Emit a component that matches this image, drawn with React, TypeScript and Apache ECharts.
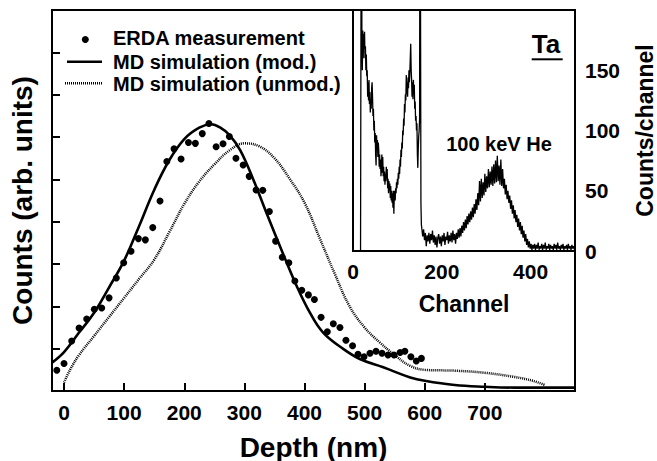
import React, { useEffect, useRef } from 'react';
import * as echarts from 'echarts';

// ---- Main plot data (depth in nm, counts in arb. units) ----
const depthTicks = [0, 100, 200, 300, 400, 500, 600, 700];

const erdaDepth = [-12, 0, 12.8, 25, 37.7, 50.4, 62.7, 74.9, 87, 99.3, 111.5, 123.7, 135.3, 147.6, 159.7, 171, 183, 194.7, 207, 218.5, 230, 241, 253, 264.5, 275, 286, 298, 308, 319.5, 330.6, 341.6, 352, 363, 374, 384, 395.5, 406.5, 416.5, 427.6, 438, 448, 459, 469, 480, 489, 499, 509, 519, 529, 539, 549, 559, 567, 577, 586, 594.5];
const erdaCounts = [0.49, 0.65, 1.18, 1.49, 1.70, 1.93, 1.96, 2.20, 2.67, 3.03, 3.30, 3.60, 3.57, 3.86, 4.49, 5.42, 5.72, 5.48, 5.87, 5.85, 6.08, 6.32, 5.77, 5.84, 6.01, 5.50, 5.34, 5.07, 4.75, 4.74, 4.24, 3.54, 3.16, 3.03, 2.60, 2.38, 2.27, 2.16, 1.74, 1.40, 1.59, 1.50, 1.20, 1.07, 0.87, 0.81, 0.89, 0.94, 0.89, 0.85, 0.85, 0.91, 0.94, 0.81, 0.71, 0.77];

const modDepth = [-20, 0, 25, 50, 75, 100, 125, 150, 175, 200, 225, 245, 260, 275, 293, 315, 337, 365, 387, 409, 431, 465, 493, 531, 576, 600, 650, 700, 750, 850];
const modCounts = [0.67, 0.92, 1.38, 1.85, 2.45, 3.08, 3.9, 4.75, 5.45, 5.95, 6.22, 6.3, 6.22, 6.05, 5.69, 4.99, 4.2, 3.22, 2.48, 1.85, 1.38, 0.99, 0.75, 0.56, 0.32, 0.24, 0.14, 0.1, 0.08, 0.08];

const unmodDepth = [0, 10, 25, 50, 75, 100, 125, 150, 175, 200, 225, 250, 275, 300, 325, 350, 375, 400, 425, 450, 475, 500, 525, 550, 575, 600, 650, 700, 750, 780, 800];
const unmodCounts = [0.2, 0.5, 0.85, 1.3, 1.75, 2.2, 2.65, 3.1, 3.75, 4.42, 4.95, 5.35, 5.68, 5.85, 5.78, 5.5, 5.02, 4.45, 3.62, 2.78, 2.0, 1.5, 1.15, 0.85, 0.6, 0.5, 0.48, 0.43, 0.33, 0.24, 0.14];

// ---- Inset spectrum (channel vs counts/channel) ----
const channelTicks = [0, 200, 400];
const specChannel = [17, 19,
  20, 21, 22, 23, 24, 25, 26, 27, 28, 29, 30, 31, 32, 33, 34, 35, 36, 37, 38, 39, 40, 41, 42, 43, 44, 45, 46, 47, 48, 49,
  50, 51, 52, 53, 54, 55, 56, 57, 58, 59, 60, 61, 62, 63, 64, 65, 66, 67, 68, 69, 70, 71, 72, 73, 74, 75, 76, 77, 78, 79,
  80, 81, 82, 83, 84, 85, 86, 87, 88, 89, 90, 91, 92, 93, 94, 95, 96, 97, 98, 99, 100, 101, 102, 103, 104, 105, 106, 107, 108, 109,
  110, 111, 112, 113, 114, 115, 116, 117, 118, 119, 120, 121, 122, 123, 124, 125, 126, 127, 128, 129, 130, 131, 132, 133, 134, 135, 136, 137, 138, 139,
  140, 141, 142, 143, 144, 145, 146, 147, 148, 149, 150, 151, 153, 154,
  155, 157, 159, 161, 163, 165, 167, 169, 171, 173, 175, 177, 179, 181, 183, 185, 187, 189, 191, 193, 195, 197, 199,
  201, 203, 205, 207, 209, 211, 213, 215, 217, 219, 221, 223, 225, 227, 229, 231, 233, 235, 237, 239, 241, 243, 245, 247, 249,
  251, 253, 255, 257, 259, 261, 263, 265, 267, 269, 271, 273, 275, 277, 279, 281, 283, 285, 287, 289, 291, 293, 295, 297, 299,
  301, 303, 305, 307, 309, 311, 313, 315, 317, 319, 321, 323, 325, 327, 329, 331, 333, 335, 337, 339, 341, 343, 345, 347, 349,
  351, 353, 355, 357, 359, 361, 363, 365, 367, 369, 371, 373, 375, 377, 379, 381, 383, 385, 387, 389, 391, 393, 395, 397, 399,
  401, 403, 405, 407, 409, 411, 413, 415, 417, 419, 421, 423, 425, 427, 429, 431, 433, 435, 437, 439, 441, 443, 445, 447, 449,
  451, 453, 455, 457, 459, 461, 463, 465, 467, 469, 471, 473, 475, 477, 479, 481, 483, 485, 487, 489, 491, 493, 495, 497, 499];
const specCounts = [0, 400,
  178, 150, 183, 160, 180, 168, 182, 160, 170, 150, 163, 145, 150, 128, 140, 125, 142, 122, 132, 115, 125, 118, 135, 140, 128, 112, 118, 100, 108, 90,
  98, 80, 71, 96, 85, 92, 78, 90, 84, 70, 80, 68, 76, 62, 70, 80, 65, 78, 62, 70, 58, 66, 55, 64, 58, 70, 60, 68, 52, 60,
  48, 58, 50, 56, 44, 54, 42, 50, 40, 48, 36, 50, 31, 46, 50, 42, 52, 48, 57, 52, 60, 55, 65, 60, 70, 64, 76, 70, 84, 78,
  90, 85, 100, 96, 110, 104, 122, 115, 130, 125, 146, 130, 140, 128, 144, 135, 150, 140, 148, 160, 172, 150, 142, 128, 140, 126, 142, 130, 138, 118,
  124, 108, 112, 100, 106, 80, 69, 85, 95, 100, 110, 400, 40, 22,
  22, 12, 18, 9, 15, 4, 13, 8, 15, 6, 14, 9, 17, 7, 13, 5, 12, 3, 11, 14, 6, 12, 4,
  13, 8, 15, 5, 12, 9, 16, 6, 13, 8, 15, 7, 17, 9, 14, 6, 15, 10, 18, 11, 19, 12, 21, 15, 24,
  17, 26, 19, 29, 22, 31, 24, 33, 26, 36, 28, 39, 31, 43, 34, 48, 38, 58, 41, 60, 44, 57, 46, 64, 49,
  62, 52, 68, 53, 66, 55, 70, 54, 72, 56, 75, 57, 79, 58, 71, 55, 76, 54, 68, 52, 60, 47, 55, 43, 50,
  40, 46, 35, 42, 31, 38, 27, 34, 24, 30, 20, 27, 17, 24, 14, 21, 11, 17, 8, 14, 5, 10, 3, 8, 2,
  6, 1, 5, 2, 6, 1, 5, 2, 7, 1, 4, 2, 6, 1, 5, 2, 7, 1, 4, 2, 6, 1, 5, 2, 4,
  1, 6, 2, 5, 1, 7, 2, 4, 1, 5, 2, 6, 1, 4, 2, 5, 1, 6, 2, 4, 1, 5, 2, 4, 1];

const zip = (a: number[], b: number[]) => a.map((v, i) => [v, b[i]]);
const FONT = 'Liberation Sans';

export default function App() {
  const ref = useRef<HTMLDivElement>(null);
  useEffect(() => {
    const chart = echarts.init(ref.current!, null, { renderer: 'svg' });
    const axisLine = { show: true, onZero: false, lineStyle: { color: '#000', width: 2 } };
    chart.setOption({
      animation: false,
      textStyle: { fontFamily: FONT, fontWeight: 'bold', color: '#000' },
      grid: [
        { left: 52, top: 10, right: 82, bottom: 70, show: true, borderColor: '#000', borderWidth: 2, outerBoundsMode: 'none' },
        { left: 353, top: 10, right: 82, bottom: 210, show: true, borderColor: '#000', borderWidth: 2, backgroundColor: '#fff', outerBoundsMode: 'none', z: 4 },
      ],
      xAxis: [
        {
          gridIndex: 0, type: 'value', min: -20, max: 850,
          axisLine,
          axisTick: { inside: true, length: 8, lineStyle: { color: '#000', width: 2 }, customValues: depthTicks },
          axisLabel: { customValues: depthTicks, fontSize: 21, fontWeight: 'bold', fontFamily: FONT, color: '#000', margin: 11 },
          splitLine: { show: false },
          name: 'Depth (nm)', nameLocation: 'middle', nameGap: 42,
          nameTextStyle: { fontSize: 28, fontWeight: 'bold', fontFamily: FONT, color: '#000' },
        },
        {
          gridIndex: 1, type: 'value', min: 0, max: 500,
          axisLine,
          axisTick: { show: false, customValues: channelTicks },
          axisLabel: { customValues: channelTicks, fontSize: 21, fontWeight: 'bold', fontFamily: FONT, color: '#000', margin: 10 },
          splitLine: { show: false },
          name: 'Channel', nameLocation: 'middle', nameGap: 41,
          nameTextStyle: { fontSize: 23, fontWeight: 'bold', fontFamily: FONT, color: '#000' },
        },
      ],
      yAxis: [
        {
          gridIndex: 0, type: 'value', min: 0, max: 9, interval: 1,
          axisLine,
          axisTick: { inside: true, length: 8, lineStyle: { color: '#000', width: 2 } },
          axisLabel: { show: false },
          splitLine: { show: false },
          name: 'Counts (arb. units)', nameLocation: 'middle', nameGap: 16,
          nameTextStyle: { fontSize: 28, fontWeight: 'bold', fontFamily: FONT, color: '#000' },
        },
        {
          gridIndex: 1, type: 'value', position: 'right', min: 0, max: 200, interval: 50,
          axisLine,
          axisTick: { inside: true, length: 7, lineStyle: { color: '#000', width: 2 } },
          axisLabel: { fontSize: 21, fontWeight: 'bold', fontFamily: FONT, color: '#000', margin: 10, showMaxLabel: false },
          splitLine: { show: false },
          name: 'Counts/channel', nameLocation: 'middle', nameGap: 58, nameRotate: 90,
          nameTextStyle: { fontSize: 23, fontWeight: 'bold', fontFamily: FONT, color: '#000' },
        },
      ],
      series: [
        {
          name: 'MD simulation (unmod.)', type: 'line', xAxisIndex: 0, yAxisIndex: 0,
          data: zip(unmodDepth, unmodCounts), smooth: 0.4, symbol: 'none',
          lineStyle: { color: '#000', width: 2.5, type: [1, 1] },
        },
        {
          name: 'MD simulation (mod.)', type: 'line', xAxisIndex: 0, yAxisIndex: 0,
          data: zip(modDepth, modCounts), smooth: 0.4, symbol: 'none',
          lineStyle: { color: '#000', width: 2.6 },
        },
        {
          name: 'ERDA measurement', type: 'scatter', xAxisIndex: 0, yAxisIndex: 0,
          data: zip(erdaDepth, erdaCounts), symbol: 'circle', symbolSize: 7,
          itemStyle: { color: '#000', opacity: 1 },
        },
        {
          name: 'Spectrum', type: 'line', xAxisIndex: 1, yAxisIndex: 1, z: 6,
          data: zip(specChannel, specCounts), symbol: 'none', clip: true,
          lineStyle: { color: '#000', width: 1.3 },
        },
      ],
      graphic: [
        { type: 'circle', shape: { cx: 85.3, cy: 39.5, r: 3.5 }, style: { fill: '#000' }, z: 10 },
        { type: 'line', shape: { x1: 67, y1: 61.7, x2: 102, y2: 61.7 }, style: { stroke: '#000', lineWidth: 2.6 }, z: 10 },
        { type: 'line', shape: { x1: 65, y1: 83.3, x2: 102, y2: 83.3 }, style: { stroke: '#000', lineWidth: 2.5, lineDash: [1, 1] }, z: 10 },
        { type: 'text', x: 113, y: 38, z: 10, style: { text: 'ERDA measurement', fontSize: 20, fontWeight: 'bold', fontFamily: FONT, fill: '#000', verticalAlign: 'middle', textVerticalAlign: 'middle' } },
        { type: 'text', x: 113, y: 61.5, z: 10, style: { text: 'MD simulation (mod.)', fontSize: 20, fontWeight: 'bold', fontFamily: FONT, fill: '#000', verticalAlign: 'middle', textVerticalAlign: 'middle' } },
        { type: 'text', x: 113, y: 84, z: 10, style: { text: 'MD simulation (unmod.)', fontSize: 20, fontWeight: 'bold', fontFamily: FONT, fill: '#000', verticalAlign: 'middle', textVerticalAlign: 'middle' } },
        { type: 'text', x: 531.7, y: 43.5, z: 10, style: { text: 'Ta', fontSize: 26, fontWeight: 'bold', fontFamily: FONT, fill: '#000', verticalAlign: 'middle', textVerticalAlign: 'middle' } },
        { type: 'line', z: 10, shape: { x1: 531.7, y1: 59.3, x2: 562.7, y2: 59.3 }, style: { stroke: '#000', lineWidth: 2 } },
        { type: 'text', x: 499, y: 143.5, z: 10, style: { text: '100 keV He', fontSize: 20, fontWeight: 'bold', fontFamily: FONT, fill: '#000', align: 'center', textAlign: 'center', verticalAlign: 'middle', textVerticalAlign: 'middle' } },
      ],
    });
    return () => chart.dispose();
  }, []);
  return <div ref={ref} style={{ width: 657, height: 461, position: 'absolute', left: 0, top: 0, background: '#fff' }} />;
}
